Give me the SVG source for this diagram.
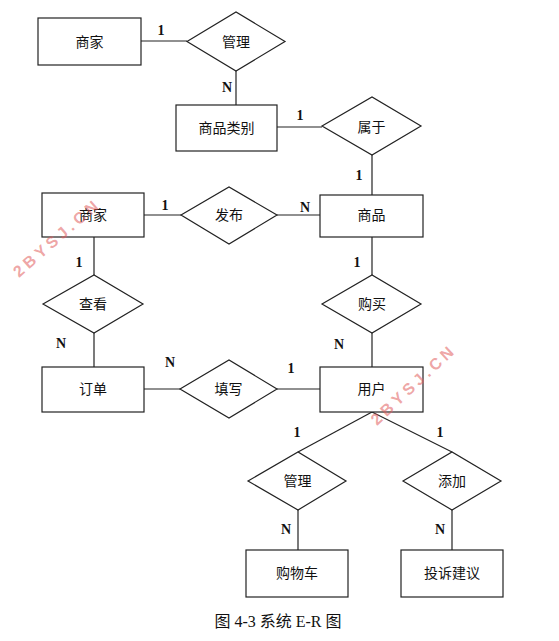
<svg xmlns="http://www.w3.org/2000/svg" width="559" height="641" viewBox="0 0 559 641">
<style>
.ent{fill:#fff;stroke:#222;stroke-width:1.2}
.rel{fill:#fff;stroke:#222;stroke-width:1.2}
.lbl{font-family:"Liberation Serif","Noto Sans CJK SC",serif;font-size:14px;fill:#111;text-anchor:middle;dominant-baseline:central}
.card{font-family:"Liberation Serif",serif;font-size:14px;font-weight:bold;fill:#111;text-anchor:middle;dominant-baseline:central}
.conn line{stroke:#222;stroke-width:1.2}
.wm{font-family:"Liberation Sans",sans-serif;font-size:16px;font-weight:bold;fill:#e05a5a;fill-opacity:0.55;letter-spacing:4px}
.cap{font-family:"Liberation Serif","Noto Sans CJK SC",serif;font-size:16px;fill:#111;text-anchor:middle}
</style>
<g id="connectors" class="conn">
<line x1="141" y1="41" x2="187" y2="41"/>
<line x1="236" y1="71" x2="236" y2="105"/>
<line x1="277" y1="127" x2="322" y2="127"/>
<line x1="372" y1="155" x2="372" y2="195"/>
<line x1="144" y1="215" x2="181" y2="215"/>
<line x1="277" y1="215" x2="320" y2="215"/>
<line x1="94" y1="237" x2="94" y2="275"/>
<line x1="94" y1="333" x2="94" y2="367"/>
<line x1="372" y1="237" x2="372" y2="275"/>
<line x1="372" y1="333" x2="372" y2="367"/>
<line x1="144" y1="389" x2="180" y2="389"/>
<line x1="277" y1="389" x2="320" y2="389"/>
<line x1="372" y1="412" x2="298" y2="452"/>
<line x1="372" y1="412" x2="452" y2="452"/>
<line x1="298" y1="510" x2="298" y2="550"/>
<line x1="452" y1="510" x2="452" y2="550"/>
</g>
<g id="shangjia1"><rect class="ent" x="38" y="18" width="103" height="47"/><text class="lbl" x="89.5" y="42">商家</text></g>
<g id="guanli1"><polygon class="rel" points="187,41.5 236,12 285,41.5 236,71"/><text class="lbl" x="236" y="42">管理</text></g>
<g id="shangpinleibie"><rect class="ent" x="176" y="105" width="101" height="46"/><text class="lbl" x="226.5" y="128">商品类别</text></g>
<g id="shuyu"><polygon class="rel" points="322,126 372,97 421,126 372,155"/><text class="lbl" x="371.5" y="127">属于</text></g>
<g id="shangjia2"><rect class="ent" x="42" y="193" width="102" height="44"/><text class="lbl" x="93" y="215">商家</text></g>
<g id="fabu"><polygon class="rel" points="181,215 229,187 277,215 229,244"/><text class="lbl" x="229" y="215">发布</text></g>
<g id="shangpin"><rect class="ent" x="320" y="195" width="103" height="42"/><text class="lbl" x="371.5" y="215">商品</text></g>
<g id="chakan"><polygon class="rel" points="43,304 94,275 143,304 94,333"/><text class="lbl" x="93" y="304">查看</text></g>
<g id="goumai"><polygon class="rel" points="322,304 372,275 421,304 372,333"/><text class="lbl" x="372" y="304">购买</text></g>
<g id="dingdan"><rect class="ent" x="42" y="367" width="102" height="45"/><text class="lbl" x="93" y="389">订单</text></g>
<g id="tianxie"><polygon class="rel" points="180,389 229,360 277,389 229,418"/><text class="lbl" x="228.5" y="389">填写</text></g>
<g id="yonghu"><rect class="ent" x="320" y="367" width="103" height="45"/><text class="lbl" x="371.5" y="389">用户</text></g>
<g id="guanli2"><polygon class="rel" points="248,481 298,452 346,481 298,510"/><text class="lbl" x="297.5" y="481">管理</text></g>
<g id="tianjia"><polygon class="rel" points="403,481 452,452 501,481 452,510"/><text class="lbl" x="452" y="481">添加</text></g>
<g id="gouwuche"><rect class="ent" x="246" y="550" width="102" height="47"/><text class="lbl" x="297" y="573">购物车</text></g>
<g id="tousujianyi"><rect class="ent" x="401" y="550" width="102" height="47"/><text class="lbl" x="452" y="573">投诉建议</text></g>
<g id="cardinalities">
<text class="card" x="161" y="30">1</text>
<text class="card" x="227" y="87">N</text>
<text class="card" x="300" y="115">1</text>
<text class="card" x="359" y="175">1</text>
<text class="card" x="165" y="205">1</text>
<text class="card" x="305" y="207">N</text>
<text class="card" x="79" y="262">1</text>
<text class="card" x="357" y="262">1</text>
<text class="card" x="61" y="343">N</text>
<text class="card" x="339" y="344">N</text>
<text class="card" x="170" y="362">N</text>
<text class="card" x="291" y="368">1</text>
<text class="card" x="297" y="432">1</text>
<text class="card" x="440" y="432">1</text>
<text class="card" x="286" y="529">N</text>
<text class="card" x="440" y="529">N</text>
</g>
<text class="wm" transform="translate(19,278) rotate(-41)">2BYSJ.CN</text>
<text class="wm" transform="translate(377,426) rotate(-43)">2BYSJ.CN</text>
<text class="cap" x="278" y="627">图 4-3 系统 E-R 图</text>
</svg>
